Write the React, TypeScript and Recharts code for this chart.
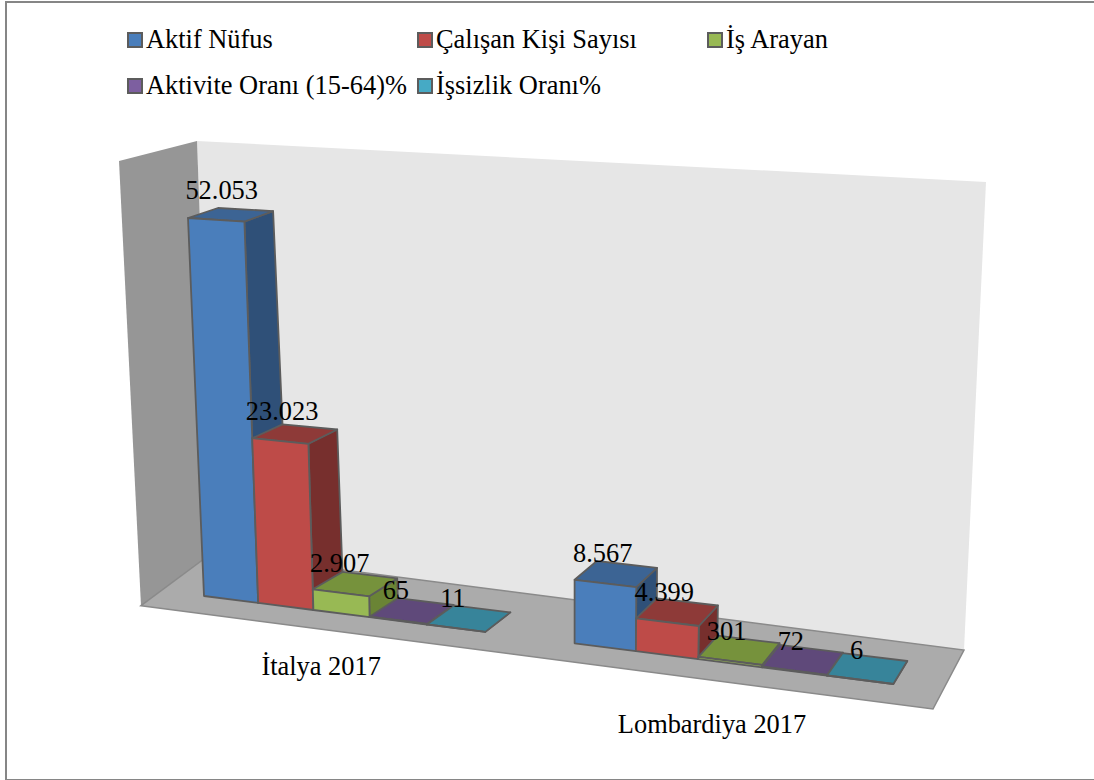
import React from "react";
import { BarChart, Bar, XAxis, YAxis, Legend, LabelList, Customized } from "recharts";

const categories = ["İtalya 2017", "Lombardiya 2017"];
const aktifNufus = [52053, 8567];
const calisan = [23023, 4399];
const isArayan = [2907, 301];
const aktivite = [65, 72];
const issizlik = [11, 6];

const seriesNames = ["Aktif Nüfus", "Çalışan Kişi Sayısı", "İş Arayan", "Aktivite Oranı (15-64)%", "İşsizlik Oranı%"];
const seriesValues = [aktifNufus, calisan, isArayan, aktivite, issizlik];
const frontColors = ["#4a7ebb", "#be4b48", "#98b954", "#7d5fa0", "#46aac5"];
const topColors = ["#3c6494", "#8e3a38", "#76923c", "#5f497a", "#37849a"];
const sideColors = ["#2f5078", "#772f2d", "#6a8435", "#513d6a", "#2e7185"];

const data = categories.map((name, i) => {
  const row: Record<string, string | number> = { name };
  seriesNames.forEach((s, k) => { row[s] = seriesValues[k][i]; });
  return row;
});

const W = 1094, H = 780;
const M = { left: 60, right: 60, top: 100, bottom: 40 };
const PW = W - M.left - M.right, PH = H - M.top - M.bottom;
const GAP_FRACTION = 0.75 / 6.5;
const bandW = PW / categories.length;
const X0 = M.left + bandW * GAP_FRACTION;
const X1 = M.left + PW - bandW * GAP_FRACTION;
const FONT = '"Liberation Serif", "Times New Roman", serif';
const FS = 26.4;

type P = [number, number];
function quadMap(q: P[]) {
  const [[x0, y0], [x1, y1], [x2, y2], [x3, y3]] = q;
  const dx1 = x1 - x2, dx2 = x3 - x2, sx = x0 - x1 + x2 - x3;
  const dy1 = y1 - y2, dy2 = y3 - y2, sy = y0 - y1 + y2 - y3;
  const den = dx1 * dy2 - dx2 * dy1;
  const g = (sx * dy2 - dx2 * sy) / den, h = (dx1 * sy - sx * dy1) / den;
  const a = x1 - x0 + g * x1, b = x3 - x0 + h * x3;
  const d = y1 - y0 + g * y1, e = y3 - y0 + h * y3;
  return (u: number, v: number): P => {
    const w = g * u + h * v + 1;
    return [(a * u + b * v + x0) / w, (d * u + e * v + y0) / w];
  };
}

// perspective planes: u along the categories, v up the value axis (BL, BR, TR, TL)
const frontPlane = quadMap([[204, 596], [893, 684], [908, 264], [188, 218]]);
const backPlane = quadMap([[237, 579], [907, 661], [923, 248], [218, 208]]);
const uOf = (x: number) => (x - X0) / (X1 - X0);
const vOf = (y: number) => (M.top + PH - y) / PH;
const pts = (a: P[]) => a.map((p) => `${p[0].toFixed(1)},${p[1].toFixed(1)}`).join(" ");
const fmt = (v: number) => String(v).replace(/\B(?=(\d{3})+(?!\d))/g, ".");

const EDGE = "#5c5c5c";

function makeShape(k: number) {
  return function Shape3D(props: any) {
    const { x, y, width, height } = props;
    const u0 = uOf(x), u1 = uOf(x + width), vb = vOf(y + height), vt = vOf(y);
    const fBL = frontPlane(u0, vb), fBR = frontPlane(u1, vb), fTR = frontPlane(u1, vt), fTL = frontPlane(u0, vt);
    const bBR = backPlane(u1, vb), bTR = backPlane(u1, vt), bTL = backPlane(u0, vt);
    const sw = { stroke: EDGE, strokeWidth: 1.8, strokeLinejoin: "round" as const };
    return (
      <g>
        <polygon points={pts([fBR, bBR, bTR, fTR])} fill={sideColors[k]} {...sw} />
        <polygon points={pts([fTL, fTR, bTR, bTL])} fill={topColors[k]} {...sw} />
        <polygon points={pts([fBL, fBR, fTR, fTL])} fill={frontColors[k]} {...sw} />
      </g>
    );
  };
}

function BarLabel(props: any) {
  const { x, y, width, height, value } = props;
  const u = uOf(x + width / 2), v = vOf(y), v0 = vOf(y + height);
  const f = frontPlane(u, v), b = backPlane(u, v);
  const shift = -7 + 7 * (v - v0) + 10 * Math.max(0, u - 0.45);
  return (
    <text x={f[0] + 0.5 * (b[0] - f[0]) - 9 + shift} y={f[1] - 21} textAnchor="middle" fontFamily={FONT} fontSize={FS} fill="#000">
      {fmt(Number(value))}
    </text>
  );
}

function AxisTick(props: any) {
  const { x, payload } = props;
  const u = uOf(x);
  const p = frontPlane(u, 0);
  return (
    <text x={p[0] - 21 + 4 * u} y={p[1] + 58 + 15.7 * u} textAnchor="middle" fontFamily={FONT} fontSize={FS} fill="#000">
      {payload.value}
    </text>
  );
}

function Walls() {
  return (
    <g>
      <polygon points="197,141 986,182 964,650 212,553" fill="#e6e6e6" />
      <polygon points="119,161 197,141 212,553 141,605.7" fill="#969696" />
      <polygon points="141,605.7 212,553 964,650 933,709" fill="#ababab" stroke="#8a8a8a" strokeWidth={1.5} />
    </g>
  );
}

function LegendBox(props: any) {
  const items = [...(props.payload || [])].sort((a: any, b: any) => seriesNames.indexOf(a.value) - seriesNames.indexOf(b.value));
  return (
    <div style={{ position: "relative", width: W, height: 110 }}>
      {items.map((it: any, i: number) => {
        const col = i % 3, row = Math.floor(i / 3);
        return (
          <div key={it.value} style={{ position: "absolute", left: 127 + col * 290, top: 21 + row * 45.5, whiteSpace: "nowrap", fontFamily: FONT, fontSize: FS, lineHeight: "36px", color: "#000" }}>
            <span style={{ position: "absolute", left: 0, top: 11, width: 12, height: 12, background: it.color, border: "2px solid #5c5c5c" }} />
            <span style={{ position: "absolute", left: 19, top: 0 }}>{it.value}</span>
          </div>
        );
      })}
    </div>
  );
}

export default function App() {
  return (
    <div style={{ position: "absolute", left: 0, top: 0, width: W, height: H, background: "#fff", overflow: "hidden" }}>
      <div style={{ position: "absolute", left: 5, top: 1, width: W, height: 776, borderLeft: "2px solid #868686", borderTop: "2px solid #868686", borderBottom: "2px solid #868686" }} />
      <BarChart width={W} height={H} data={data} margin={{ ...M, bottom: M.bottom - 1 }} barCategoryGap={`${GAP_FRACTION * 100}%`} barGap={0} style={{ position: "absolute", left: 0, top: 0 }}>
        <Customized component={Walls} />
        <XAxis dataKey="name" axisLine={false} tickLine={false} height={1} interval={0} tick={<AxisTick />} />
        <YAxis hide domain={[0, 52053]} allowDataOverflow />
        <Legend content={<LegendBox />} verticalAlign="middle" align="center" wrapperStyle={{ position: "absolute", left: 0, top: 0, width: W }} />
        {seriesNames.map((s, k) => (
          <Bar key={s} dataKey={s} name={s} fill={frontColors[k]} shape={makeShape(k)} isAnimationActive={false}>
            <LabelList dataKey={s} content={<BarLabel />} />
          </Bar>
        ))}
      </BarChart>
    </div>
  );
}
